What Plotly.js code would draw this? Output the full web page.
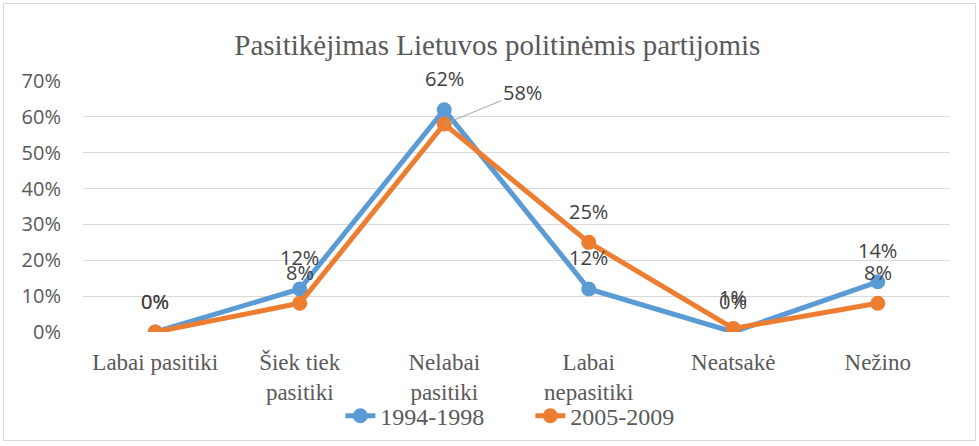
<!DOCTYPE html>
<html>
<head>
<meta charset="utf-8">
<script src="https://cdn.plot.ly/plotly-3.0.1.min.js"></script>
<style>
  html, body { margin: 0; padding: 0; background: #fff; }
  #wrap { position: relative; width: 979px; height: 446px; }
  #chart { width: 979px; height: 446px; }
  #frame { position: absolute; left: 3px; top: 3px; width: 971px; height: 436px; border: 1px solid #d9d9d9; pointer-events: none; }
</style>
</head>
<body>
<div id="wrap">
  <div id="chart"></div>
  <div id="frame"></div>
</div>
<script>
const categories = ["Labai pasitiki", "Šiek tiek<br>pasitiki", "Nelabai<br>pasitiki", "Labai<br>nepasitiki", "Neatsakė", "Nežino"];
const seriesNames = ["1994-1998", "2005-2009"];
const values1994 = [0.00, 0.12, 0.62, 0.12, 0.00, 0.14];
const values2005 = [0.00, 0.08, 0.58, 0.25, 0.01, 0.08];
const yTickVals = [0, 0.1, 0.2, 0.3, 0.4, 0.5, 0.6, 0.7];
const colors = ["#5B9BD5", "#ED7D31"];

const labelFont = {family: "Open Sans, sans-serif", size: 20, color: "#404040"};
const serif = "Liberation Serif, Times New Roman, serif";

function pct(v) { return Math.round(v * 100) + "%"; }

const traces = [values1994, values2005].map((vals, k) => ({
  type: "scatter",
  mode: "lines+markers",
  name: seriesNames[k],
  x: categories,
  y: vals,
  line: {color: colors[k], width: 5},
  marker: {color: colors[k], size: 15},
  hoverinfo: "skip"
}));

const annotations = [];
[values1994, values2005].forEach((vals, k) => {
  vals.forEach((v, i) => {
    const leader = (k === 1 && i === 2);
    if (leader) {
      annotations.push({
        x: categories[i], y: v, xref: "x", yref: "y",
        text: pct(v), font: labelFont,
        showarrow: true, arrowhead: 0, arrowwidth: 1, arrowcolor: "#a6a6a6",
        ax: 78, ay: -32, standoff: 0
      });
    } else {
      annotations.push({
        x: categories[i], y: v, xref: "x", yref: "y",
        text: pct(v), font: labelFont,
        showarrow: false, yshift: 31
      });
    }
  });
});

const layout = {
  width: 979, height: 446,
  margin: {l: 83, r: 29, t: 81, b: 114, autoexpand: false},
  paper_bgcolor: "#ffffff", plot_bgcolor: "#ffffff",
  title: {
    text: "Pasitikėjimas Lietuvos politinėmis partijomis",
    font: {family: serif, size: 29, color: "#595959"},
    x: 0.508, xanchor: "center", y: 0.9, yanchor: "middle", yref: "container",
    automargin: false
  },
  xaxis: {
    type: "category",
    range: [-0.5, 5.5],
    automargin: false,
    showgrid: false, zeroline: false, showline: false, ticks: "",
    tickfont: {family: serif, size: 23, color: "#595959"},
    ticklabelstandoff: 14
  },
  yaxis: {
    range: [0, 0.7],
    automargin: false,
    tickvals: yTickVals,
    tickformat: ".0%",
    showgrid: true, gridcolor: "#d9d9d9", gridwidth: 1,
    zeroline: false, showline: false, ticks: "",
    tickfont: {family: "Open Sans, sans-serif", size: 20, color: "#595959"},
    ticklabelstandoff: 21
  },
  showlegend: true,
  legend: {
    orientation: "h", x: 0.516, xanchor: "center", y: -0.335, yanchor: "middle",
    bgcolor: "rgba(0,0,0,0)",
    font: {family: serif, size: 24, color: "#595959"},
    entrywidth: 145, itemwidth: 30, tracegroupgap: 0
  },
  annotations: annotations,
  hovermode: false
};
layout.title.y = 1 - 45 / 446;

Plotly.newPlot("chart", traces, layout, {displayModeBar: false, staticPlot: true});
</script>
</body>
</html>
